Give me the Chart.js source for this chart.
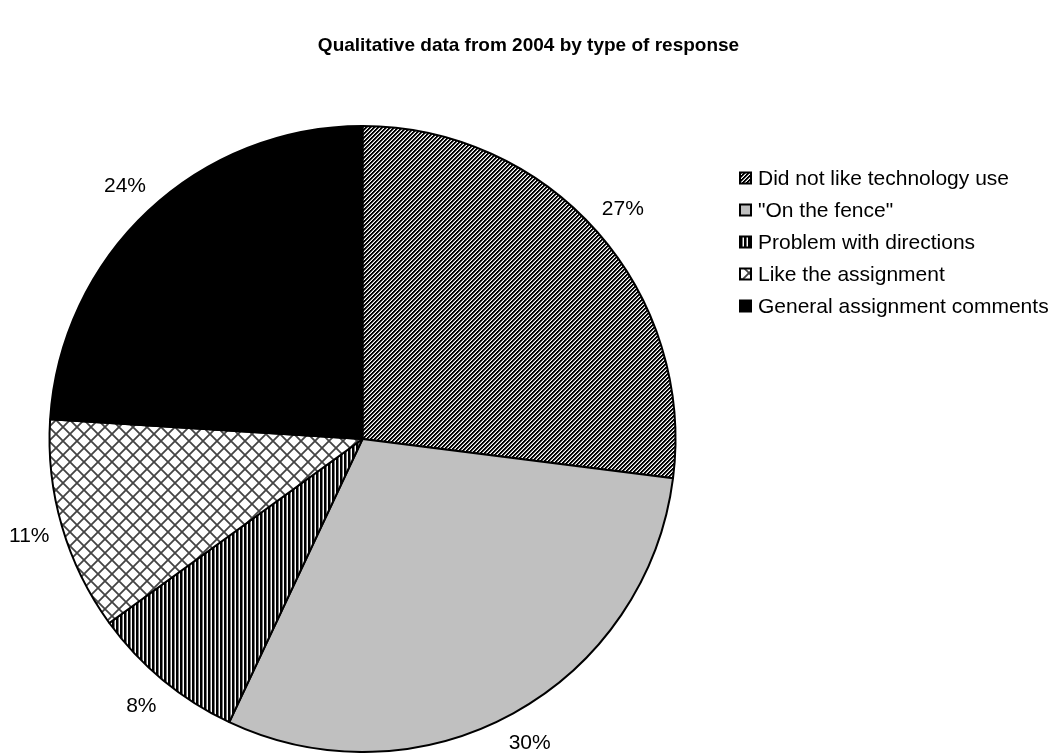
<!DOCTYPE html>
<html>
<head>
<meta charset="utf-8">
<script src="https://cdn.jsdelivr.net/npm/chart.js@4/dist/chart.umd.min.js"></script>
<style>
  html, body { margin: 0; padding: 0; background: #fff; }
  #wrap { width: 1057px; height: 753px; }
</style>
</head>
<body>
<div id="wrap"><canvas id="pieChart" width="1057" height="753"></canvas></div>
<script>
const categories = ['Did not like technology use', '"On the fence"', 'Problem with directions', 'Like the assignment', 'General assignment comments'];
const percents = [27, 30, 8, 11, 24];
const titleText = 'Qualitative data from 2004 by type of response';

const FONT = 'Arial, "Liberation Sans", sans-serif';

// small tiles for the fill patterns
function makeTile(w, h, paint) {
  const c = document.createElement('canvas');
  c.width = w; c.height = h;
  const g = c.getContext('2d');
  g.fillStyle = '#fff';
  g.fillRect(0, 0, w, h);
  paint(g, w, h);
  return c.getContext('2d').createPattern(c, 'repeat');
}

const upDiagonal = makeTile(8, 8, (g, w, h) => {
  for (let y = 0; y < h; y++) {
    for (let x = 0; x < w; x++) {
      const k = (x + y) % 4;
      if (k === 0 || k === 1) { g.fillStyle = '#000'; g.fillRect(x, y, 1, 1); }
      else if (k === 2) { g.fillStyle = '#888'; g.fillRect(x, y, 1, 1); }
    }
  }
});

const verticals = makeTile(4, 4, (g, w, h) => {
  g.fillStyle = '#000'; g.fillRect(0, 0, 2, h);
  g.fillStyle = '#777'; g.fillRect(2, 0, 1, h);
});

const lattice = makeTile(14, 14, (g, w, h) => {
  g.strokeStyle = '#444';
  g.lineWidth = 1.8;
  g.beginPath();
  g.moveTo(0, 0); g.lineTo(w, h);
  g.moveTo(w, 0); g.lineTo(0, h);
  g.stroke();
});

const fills = [upDiagonal, '#c0c0c0', verticals, lattice, '#000'];

// bold title centred across the whole canvas
const pageTitle = {
  id: 'pageTitle',
  afterDraw(chart) {
    const ctx = chart.ctx;
    ctx.save();
    ctx.font = 'bold 19px ' + FONT;
    ctx.fillStyle = '#000';
    ctx.textAlign = 'center';
    ctx.textBaseline = 'middle';
    ctx.fillText(titleText, chart.width / 2, 46);
    ctx.restore();
  }
};

// percentage labels just outside each slice
const outsideLabels = {
  id: 'outsideLabels',
  afterDatasetsDraw(chart) {
    const ctx = chart.ctx;
    const arcs = chart.getDatasetMeta(0).data;
    ctx.save();
    ctx.font = '21px ' + FONT;
    ctx.fillStyle = '#000';
    ctx.textAlign = 'center';
    ctx.textBaseline = 'middle';
    arcs.forEach((arc, i) => {
      const mid = (arc.startAngle + arc.endAngle) / 2;
      const r = arc.outerRadius + 34;
      ctx.fillText(percents[i] + '%', arc.x + Math.cos(mid) * r, arc.y + Math.sin(mid) * r);
    });
    ctx.restore();
  }
};

// legend drawn at the right of the pie
const sideLegend = {
  id: 'sideLegend',
  afterDraw(chart) {
    const ctx = chart.ctx;
    const x0 = 740, y0 = 178, step = 32, box = 11;
    ctx.save();
    ctx.font = '21px ' + FONT;
    ctx.textBaseline = 'middle';
    categories.forEach((name, i) => {
      const y = y0 + i * step;
      ctx.fillStyle = fills[i];
      ctx.fillRect(x0, y - box / 2, box, box);
      ctx.strokeStyle = '#000';
      ctx.lineWidth = 2;
      ctx.strokeRect(x0, y - box / 2, box, box);
      ctx.fillStyle = '#000';
      ctx.fillText(name, x0 + 18, y + 1);
    });
    ctx.restore();
  }
};

new Chart(document.getElementById('pieChart'), {
  type: 'pie',
  data: {
    labels: categories,
    datasets: [{
      data: percents,
      backgroundColor: fills,
      borderColor: '#000',
      borderWidth: 2,
      hoverOffset: 0
    }]
  },
  options: {
    responsive: false,
    animation: false,
    events: [],
    layout: { padding: { left: 47, right: 379, top: 125, bottom: 0 } },
    plugins: {
      legend: { display: false },
      tooltip: { enabled: false },
      title: { display: false }
    }
  },
  plugins: [outsideLabels, sideLegend, pageTitle]
});
</script>
</body>
</html>
